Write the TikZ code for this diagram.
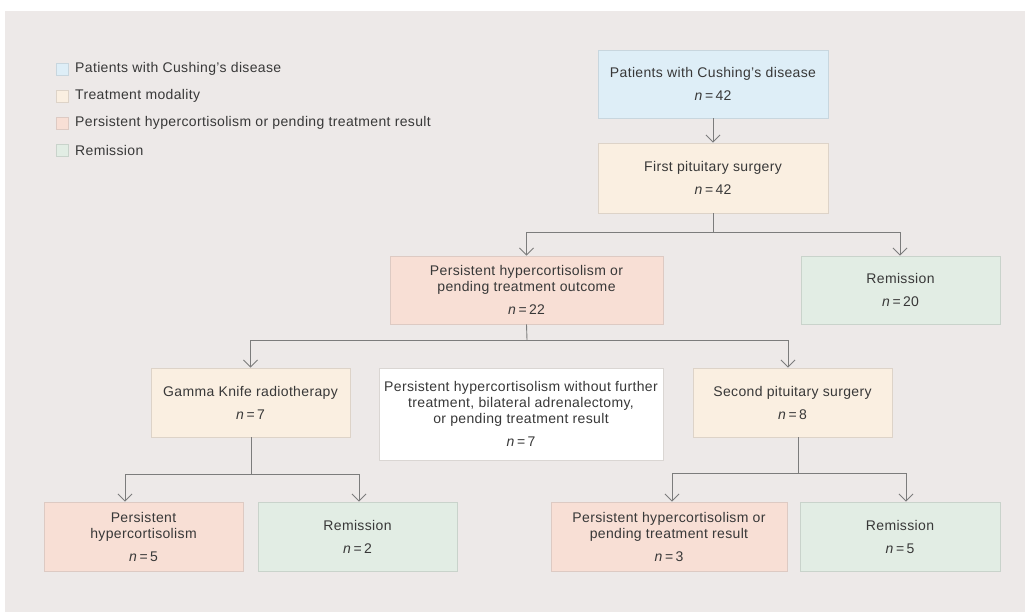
\documentclass[tikz,border=0pt]{standalone}
\usepackage{fontspec}
\setmainfont{Liberation Sans}[LetterSpace=2.5]
\usetikzlibrary{arrows.meta}
\definecolor{bgc}{HTML}{EDE9E8}
\definecolor{txt}{HTML}{383838}
\definecolor{ln}{HTML}{7C7C7C}
\definecolor{cblue}{HTML}{DEEEF7}
\definecolor{bblue}{HTML}{C8D6DE}
\definecolor{ctreat}{HTML}{FAEFE1}
\definecolor{btreat}{HTML}{DDD3C8}
\definecolor{cpers}{HTML}{F8DFD5}
\definecolor{bpers}{HTML}{DDCAC3}
\definecolor{crem}{HTML}{E2EDE4}
\definecolor{brem}{HTML}{C9D3CB}
\definecolor{bwhite}{HTML}{DAD6D3}
\tikzset{
  box/.style={draw, line width=0.9pt, inner sep=0pt, align=center, text=txt,
    font=\fontsize{14}{16}\selectfont},
  bluebox/.style={box, fill=cblue, draw=bblue},
  treatbox/.style={box, fill=ctreat, draw=btreat},
  persbox/.style={box, fill=cpers, draw=bpers},
  rembox/.style={box, fill=crem, draw=brem},
  whitebox/.style={box, fill=white, draw=bwhite},
  conn/.style={draw=ln, line width=0.9pt},
  arr/.style={conn, -{Straight Barb[length=7pt, width=14pt, line width=0.9pt]}},
  legsq/.style={draw, line width=0.8pt, minimum width=12pt, minimum height=12pt, inner sep=0pt},
  legtxt/.style={anchor=west, text=txt, inner sep=0pt, font=\fontsize{14}{16}\selectfont},
}
\newcommand{\nn}[1]{\\[7pt]\textit{n}\,=\,#1}
\begin{document}
\begin{tikzpicture}[x=1pt, y=-1pt]
\useasboundingbox (0,0) rectangle (1025,612);
\fill[bgc] (5,11) rectangle (1025,612);
% legend
\node[legsq, fill=cblue, draw=bblue] (l1) at (62,69) {};
\node[legtxt] (t1) at (75,69) {Patients with Cushing’s disease};
\node[legsq, fill=ctreat, draw=btreat] (l2) at (62,96) {};
\node[legtxt] (t2) at (75,96) {Treatment modality};
\node[legsq, fill=cpers, draw=bpers] (l3) at (62,123) {};
\node[legtxt] (t3) at (75,123) {Persistent hypercortisolism or pending treatment result};
\node[legsq, fill=crem, draw=brem] (l4) at (62,150) {};
\node[legtxt] (t4) at (75,150) {Remission};
% boxes
\node[bluebox, minimum width=230pt, minimum height=68pt] (A) at (713,84) {Patients with Cushing’s disease\nn{42}};
\node[treatbox, minimum width=230pt, minimum height=70pt] (B) at (713,178) {First pituitary surgery\nn{42}};
\node[persbox, minimum width=273pt, minimum height=68pt] (C) at (526.5,290) {Persistent hypercortisolism or\\pending treatment outcome\nn{22}};
\node[rembox, minimum width=199pt, minimum height=68pt] (D) at (900.5,290) {Remission\nn{20}};
\node[treatbox, minimum width=199pt, minimum height=69pt] (G) at (250.5,402.5) {Gamma Knife radiotherapy\nn{7}};
\node[whitebox, minimum width=284pt, minimum height=92pt] (W) at (521,414) {Persistent hypercortisolism without further\\treatment, bilateral adrenalectomy,\\or pending treatment result\nn{7}};
\node[treatbox, minimum width=199pt, minimum height=69pt] (S) at (792.5,402.5) {Second pituitary surgery\nn{8}};
\node[persbox, minimum width=199pt, minimum height=69pt] (E) at (143.5,536.5) {Persistent\\hypercortisolism\nn{5}};
\node[rembox, minimum width=199pt, minimum height=69pt] (F) at (357.5,536.5) {Remission\nn{2}};
\node[persbox, minimum width=236pt, minimum height=69pt] (P) at (669,536.5) {Persistent hypercortisolism or\\pending treatment result\nn{3}};
\node[rembox, minimum width=200pt, minimum height=69pt] (H) at (900,536.5) {Remission\nn{5}};
% junctions
\coordinate (jB) at (713,232);
\coordinate (jC) at (527,340);
\coordinate (jG) at (251,474);
\coordinate (jS) at (798,473);
% connectors
\draw[arr] (A.south) -- (B.north);
\draw[conn] (B.south) -- (jB);
\draw[arr] (jB) -| (C.north);
\draw[arr] (jB) -| ([xshift=-0.5pt]D.north);
\draw[conn] (C.south) -- (jC);
\draw[arr] (jC) -| (G.north);
\draw[arr] (jC) -| ([xshift=-4.5pt]S.north);
\draw[conn] ([xshift=0.5pt]G.south) -- (jG);
\draw[arr] (jG) -| ([xshift=-18.5pt]E.north);
\draw[arr] (jG) -| ([xshift=1.5pt]F.north);
\draw[conn] ([xshift=5.5pt]S.south) -- (jS);
\draw[arr] (jS) -| ([xshift=3pt]P.north);
\draw[arr] (jS) -| ([xshift=6pt]H.north);
\end{tikzpicture}
\end{document}
